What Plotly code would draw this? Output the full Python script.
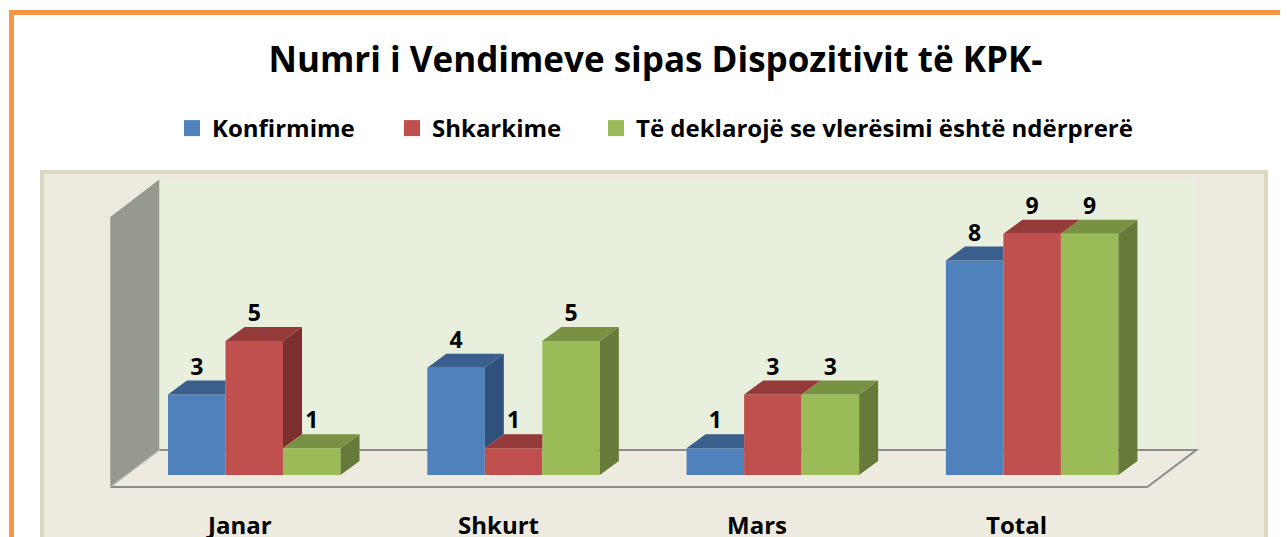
import plotly.graph_objects as go

# ---------------- data ----------------
categories = ["Janar", "Shkurt", "Mars", "Total"]
series_names = ["Konfirmime", "Shkarkime", "Të deklarojë se vlerësimi është ndërprerë"]
konfirmime = [3, 4, 1, 8]
shkarkime = [5, 1, 3, 9]
nderprere = [1, 5, 3, 9]
series_values = [konfirmime, shkarkime, nderprere]
title_text = "Numri i Vendimeve sipas Dispozitivit të KPK-"

# ---------------- styles ----------------
front_colors = ["#4F81BD", "#C0504D", "#9BBB59"]
top_colors = ["#3B5F8C", "#943A38", "#789143"]
side_colors = ["#30517C", "#7C2F2D", "#667A39"]
FONT = "Open Sans, sans-serif"

W, H = 1280, 529           # page body has an 8px margin
OFF = 8
# axis geometry (category units / value units)
XR = [-0.9497, 3.9867]
YR = [-2.3134, 17.4254]
BW = 0.2218               # bar width (category units)
DX, DY = 0.0733, 0.522    # 3-D depth offsets
# walls / floor (layout geometry)
FL_FRONT_Y, FL_BACK_Y = -0.448, 0.933
FL_FL_X, FL_BL_X, FL_FR_X, FL_BR_X = -0.5553, -0.3664, 3.444, 3.633
SW_FRONT_TOP, SW_BACK_TOP = 9.627, 11.03


def px(x):
    return (x - OFF) / W


def py(y):
    return 1 - (y - OFF) / H


fig = go.Figure()

legend_ids = ["legend", "legend2", "legend3"]
# front faces: real bars
for k, (name, vals) in enumerate(zip(series_names, series_values)):
    fig.add_trace(go.Bar(
        x=list(range(len(categories))), y=vals, name=name,
        width=BW, offset=(k - 1.5) * BW,
        marker=dict(color=front_colors[k], line=dict(width=0)),
        hoverinfo="skip", showlegend=False, legendgroup=name,
    ))
    # legend key (larger square than the default bar key)
    fig.add_trace(go.Scatter(
        x=[None], y=[None], mode="markers", name=name, legendgroup=name,
        marker=dict(symbol="square", size=16, color=front_colors[k], line=dict(width=0)),
        showlegend=True, legend=legend_ids[k], hoverinfo="skip",
    ))

# 3-D side and top faces (derived from values)
for k, vals in enumerate(series_values):
    side_x, side_y, top_x, top_y = [], [], [], []
    for i, h in enumerate(vals):
        xL = i + (k - 1.5) * BW
        xR = xL + BW
        hn = series_values[k + 1][i] if k < 2 else None
        if k == 2:
            side_x += [xR, xR, xR + DX, xR + DX, None]
            side_y += [0, h, h + DY, DY, None]
        elif hn < h:
            side_x += [xR, xR, xR + DX, xR + DX, None]
            side_y += [hn, h, h + DY, hn + DY, None]
        if k < 2 and hn > h:
            top_x += [xL, xR, xR, xL + DX, None]
            top_y += [h, h, h + DY, h + DY, None]
        else:
            top_x += [xL, xR, xR + DX, xL + DX, None]
            top_y += [h, h, h + DY, h + DY, None]
    if side_x:
        fig.add_trace(go.Scatter(x=side_x, y=side_y, mode="none", fill="toself",
                                 fillcolor=side_colors[k], showlegend=False, hoverinfo="skip"))
    fig.add_trace(go.Scatter(x=top_x, y=top_y, mode="none", fill="toself",
                             fillcolor=top_colors[k], showlegend=False, hoverinfo="skip"))

# data labels
for k, vals in enumerate(series_values):
    fig.add_trace(go.Scatter(
        x=[i + (k - 1) * BW for i in range(len(categories))],
        y=[v + DY for v in vals], mode="text",
        text=[str(v) for v in vals], textposition="top center",
        textfont=dict(family=FONT, size=23, color="#000000", weight="bold"),
        showlegend=False, hoverinfo="skip",
    ))

shapes = [
    dict(type="rect", xref="paper", yref="paper", x0=px(11.5), y0=py(580), x1=px(1320), y1=py(12.5),
         line=dict(color="#F79646", width=5), fillcolor="rgba(0,0,0,0)", layer="below"),
    dict(type="rect", xref="paper", yref="paper", x0=px(42), y0=py(580), x1=px(1266), y1=py(172),
         line=dict(color="#DCD7BF", width=4), fillcolor="#EDEBE0", layer="below"),
    dict(type="rect", xref="x", yref="y", x0=FL_BL_X, x1=FL_BR_X, y0=FL_BACK_Y, y1=SW_BACK_TOP,
         line=dict(width=0), fillcolor="#E9EFDD", layer="below"),
    dict(type="path", xref="x", yref="y",
         path=f"M{FL_FL_X},{FL_FRONT_Y} L{FL_FL_X},{SW_FRONT_TOP} L{FL_BL_X},{SW_BACK_TOP} L{FL_BL_X},{FL_BACK_Y} Z",
         line=dict(width=0), fillcolor="#96998D", layer="below"),
    dict(type="path", xref="x", yref="y",
         path=f"M{FL_FL_X},{FL_FRONT_Y} L{FL_FR_X},{FL_FRONT_Y} L{FL_BR_X},{FL_BACK_Y} L{FL_BL_X},{FL_BACK_Y}",
         line=dict(color="#8C8C8C", width=2), layer="below"),
    dict(type="line", xref="x", yref="y", x0=FL_FL_X, y0=FL_FRONT_Y, x1=FL_BL_X, y1=FL_BACK_Y,
         line=dict(color="#B5B5AE", width=1.5), layer="below"),
]

annotations = [
    dict(x=i - 0.06, y=-1.86, xref="x", yref="y", text=c, showarrow=False,
         font=dict(family=FONT, size=24, color="#000000", weight="bold"),
         xanchor="center", yanchor="middle")
    for i, c in enumerate(categories)
]

legend_font = dict(family=FONT, size=24, color="#000000", weight="bold")
legend_common = dict(orientation="h", xanchor="left", yanchor="middle", y=py(128.5),
                     font=legend_font, bgcolor="rgba(0,0,0,0)", borderwidth=0,
                     itemsizing="trace")

fig.update_layout(
    width=W, height=H,
    margin=dict(l=0, r=0, t=0, b=0),
    paper_bgcolor="#FFFFFF", plot_bgcolor="rgba(0,0,0,0)",
    barmode="overlay",
    title=dict(text=title_text, x=px(655.5), xanchor="center", y=py(60), yanchor="middle",
               font=dict(family=FONT, size=35, color="#000000", weight="bold")),
    legend=dict(x=px(172), **legend_common),
    legend2=dict(x=px(392), **legend_common),
    legend3=dict(x=px(596), **legend_common),
    xaxis=dict(range=XR, visible=False, fixedrange=True),
    yaxis=dict(range=YR, visible=False, fixedrange=True),
    shapes=shapes, annotations=annotations,
    showlegend=True,
)

fig.write_html("out.html")
